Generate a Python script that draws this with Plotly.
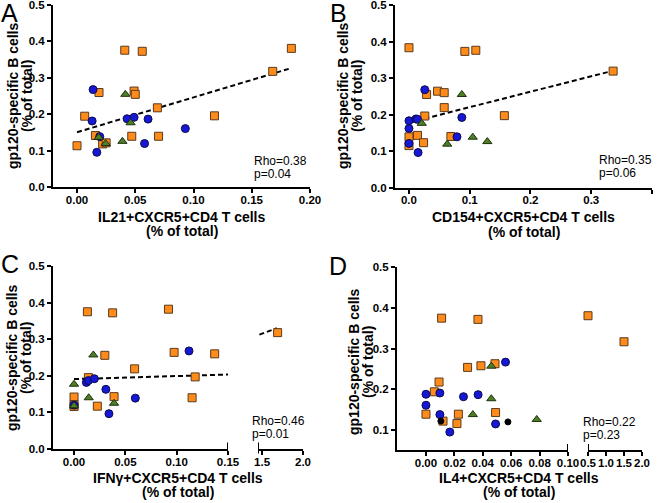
import plotly.graph_objects as go

W, H = 660, 503

# ---------------- data ----------------
# Panel A: IL21+CXCR5+CD4 T cells
a_sq_x = [0.000, 0.0066, 0.0158, 0.0189, 0.022, 0.025, 0.041, 0.056, 0.049, 0.050, 0.047, 0.069, 0.070, 0.118, 0.168, 0.184]
a_sq_y = [0.114, 0.195, 0.142, 0.260, 0.119, 0.122, 0.376, 0.373, 0.264, 0.255, 0.140, 0.218, 0.140, 0.196, 0.318, 0.381]
a_ci_x = [0.0138, 0.013, 0.0195, 0.017, 0.043, 0.049, 0.061, 0.058, 0.093]
a_ci_y = [0.268, 0.182, 0.139, 0.096, 0.188, 0.192, 0.187, 0.120, 0.161]
a_tr_x = [0.0415, 0.046, 0.0186, 0.0246, 0.039]
a_tr_y = [0.255, 0.177, 0.137, 0.120, 0.126]
a_fit_x = [0.0, 0.184]
a_fit_y = [0.151, 0.327]

# Panel B: CD154+CXCR5+CD4 T cells
b_sq_x = [0.0, 0.0, 0.0, 0.014, 0.024, 0.026, 0.029, 0.047, 0.058, 0.058, 0.069, 0.092, 0.110, 0.157, 0.336]
b_sq_y = [0.383, 0.139, 0.115, 0.143, 0.123, 0.196, 0.255, 0.264, 0.260, 0.219, 0.140, 0.373, 0.376, 0.197, 0.319]
b_ci_x = [0.0, 0.0, 0.0, 0.0115, 0.014, 0.015, 0.026, 0.087, 0.079]
b_ci_y = [0.183, 0.162, 0.121, 0.188, 0.187, 0.096, 0.268, 0.192, 0.139]
b_tr_x = [0.087, 0.021, 0.063, 0.105, 0.129]
b_tr_y = [0.255, 0.176, 0.119, 0.138, 0.126]
b_fit_x = [0.0, 0.336]
b_fit_y = [0.178, 0.320]

# Panel C: IFNγ+CXCR5+CD4 T cells (broken x axis)
c_sq_x = [0.013, 0.0376, 0.092, 1.69, 0.0975, 0.137, 0.030, 0.059, 0.014, 0.118, 0.0, 0.039, 0.115, 0.0, 0.0227, 0.0]
c_sq_y = [0.375, 0.372, 0.382, 0.318, 0.264, 0.260, 0.256, 0.219, 0.195, 0.197, 0.142, 0.143, 0.140, 0.116, 0.117, 0.121]
c_ci_x = [0.112, 0.012, 0.014, 0.0198, 0.031, 0.0597, 0.034, 0.0]
c_ci_y = [0.268, 0.182, 0.187, 0.192, 0.163, 0.139, 0.0965, 0.120]
c_tr_x = [0.0188, 0.0, 0.0143, 0.039, 0.0]
c_tr_y = [0.257, 0.177, 0.140, 0.125, 0.118]
c_bk_x = [0.0]
c_bk_y = [0.121]
c_fit_x = [0.0, 1.68]
c_fit_y = [0.191, 0.330]

# Panel D: IL4+CXCR5+CD4 T cells (broken x axis)
d_sq_x = [0.011, 0.0366, 0.0293, 0.0387, 0.0486, 0.0092, 0.0059, 0.0, 0.012, 0.0228, 0.0218, 0.049, 0.5, 1.5]
d_sq_y = [0.375, 0.372, 0.254, 0.258, 0.263, 0.218, 0.194, 0.139, 0.122, 0.139, 0.116, 0.143, 0.381, 0.317]
d_ci_x = [0.0, 0.0, 0.0098, 0.0098, 0.0264, 0.0367, 0.056, 0.049, 0.0168]
d_ci_y = [0.188, 0.161, 0.191, 0.138, 0.182, 0.187, 0.267, 0.115, 0.095]
d_tr_x = [0.046, 0.046, 0.033, 0.078]
d_tr_y = [0.257, 0.177, 0.138, 0.126]
d_bk_x = [0.0105, 0.0577]
d_bk_y = [0.122, 0.120]

# tick values
a_xticks = [0.00, 0.05, 0.10, 0.15, 0.20]
b_xticks = [0.0, 0.1, 0.2, 0.3, 0.4]
c1_xticks = [0.00, 0.05, 0.10, 0.15]
c2_xticks = [1.5, 2.0]
d1_xticks = [0.00, 0.02, 0.04, 0.06, 0.08, 0.10]
d2_xticks = [0.5, 1.0, 1.5, 2.0]
y_ticks = [0.0, 0.1, 0.2, 0.3, 0.4, 0.5]
d_yticks = [0.1, 0.2, 0.3, 0.4, 0.5]

y_title = "gp120-specific B cells"
sub_title = "(% of total)"
x_titles = ["IL21+CXCR5+CD4 T cells", "CD154+CXCR5+CD4 T cells",
            "IFNγ+CXCR5+CD4 T cells", "IL4+CXCR5+CD4 T cells"]
stats = [("Rho=0.38", "p=0.04"), ("Rho=0.35", "p=0.06"),
         ("Rho=0.46", "p=0.01"), ("Rho=0.22", "p=0.23")]
letters = ["A", "B", "C", "D"]

# ---------------- style ----------------
ORANGE, ORANGE_LINE = "#FF8C1A", "#5a3a1e"
BLUE, BLUE_LINE = "#1717D6", "#0b0b4a"
GREEN, GREEN_LINE = "#4F7F25", "#1c300e"
FONT = "Arial, Liberation Sans, sans-serif"

def fx(p):
    return p / W

def fy(p):
    return 1 - p / H

def dx(a, b):
    return [fx(a), fx(b)]

def dy(top, bottom):
    return [fy(bottom), fy(top)]

fig = go.Figure()

def add_fit(x, y, xa, ya):
    fig.add_trace(go.Scatter(x=x, y=y, mode="lines", xaxis=xa, yaxis=ya,
                             line=dict(color="black", width=2, dash="5px,3px"),
                             showlegend=False, hoverinfo="skip"))

def add_pts(x, y, xa, ya, symbol, color, lcolor, size=8, lw=1):
    fig.add_trace(go.Scatter(x=x, y=y, mode="markers", xaxis=xa, yaxis=ya,
                             cliponaxis=False,
                             marker=dict(symbol=symbol, color=color, size=size,
                                         line=dict(color=lcolor, width=lw)),
                             showlegend=False))

def split(x, y, cut):
    lo = [(a, b) for a, b in zip(x, y) if a <= cut]
    hi = [(a, b) for a, b in zip(x, y) if a > cut]
    return ([p[0] for p in lo], [p[1] for p in lo]), ([p[0] for p in hi], [p[1] for p in hi])

# Panel A
add_fit(a_fit_x, a_fit_y, "x", "y")
add_pts(a_sq_x, a_sq_y, "x", "y", "square", ORANGE, ORANGE_LINE)
add_pts(a_ci_x, a_ci_y, "x", "y", "circle", BLUE, BLUE_LINE)
add_pts(a_tr_x, a_tr_y, "x", "y", "triangle-up", GREEN, GREEN_LINE)

# Panel B
add_fit(b_fit_x, b_fit_y, "x2", "y2")
add_pts(b_sq_x, b_sq_y, "x2", "y2", "square", ORANGE, ORANGE_LINE)
add_pts(b_ci_x, b_ci_y, "x2", "y2", "circle", BLUE, BLUE_LINE)
add_pts(b_tr_x, b_tr_y, "x2", "y2", "triangle-up", GREEN, GREEN_LINE)

# Panel C (segments x3 / x4)
C_CUT = 0.15
add_fit(c_fit_x, c_fit_y, "x3", "y3")
add_fit(c_fit_x, c_fit_y, "x4", "y3")
for (xs, ys, sym, col, lc, sz) in [(c_sq_x, c_sq_y, "square", ORANGE, ORANGE_LINE, 8),
                                    (c_bk_x, c_bk_y, "circle", "black", "black", 6),
                                    (c_ci_x, c_ci_y, "circle", BLUE, BLUE_LINE, 8),
                                    (c_tr_x, c_tr_y, "triangle-up", GREEN, GREEN_LINE, 8)]:
    lo, hi = split(xs, ys, C_CUT)
    if lo[0]:
        add_pts(lo[0], lo[1], "x3", "y3", sym, col, lc, sz)
    if hi[0]:
        add_pts(hi[0], hi[1], "x4", "y3", sym, col, lc, sz)

# Panel D (segments x5 / x6)
D_CUT = 0.10
for (xs, ys, sym, col, lc, sz) in [(d_sq_x, d_sq_y, "square", ORANGE, ORANGE_LINE, 8),
                                    (d_ci_x, d_ci_y, "circle", BLUE, BLUE_LINE, 8),
                                    (d_bk_x, d_bk_y, "circle", "black", "black", 6),
                                    (d_tr_x, d_tr_y, "triangle-up", GREEN, GREEN_LINE, 8)]:
    lo, hi = split(xs, ys, D_CUT)
    if lo[0]:
        add_pts(lo[0], lo[1], "x5", "y4", sym, col, lc, sz)
    if hi[0]:
        add_pts(hi[0], hi[1], "x6", "y4", sym, col, lc, sz)

# ---------------- axes ----------------
tickfont = dict(family=FONT, size=11.5, color="black")
axis_common = dict(showline=True, linecolor="black", linewidth=2, ticks="outside",
                   ticklen=4, tickwidth=2, tickcolor="black", showgrid=False,
                   zeroline=False, tickfont=tickfont, fixedrange=True,
                   automargin=False, tickangle=0, tickmode="array")

def labels(vals, fmt):
    return ["<b>" + format(v, fmt) + "</b>" for v in vals]

def xax(domain, rng, vals, fmt, anchor):
    return dict(axis_common, domain=domain, range=rng, tickvals=vals,
                ticktext=labels(vals, fmt), anchor=anchor, ticklabelstandoff=-3)

def yax(domain, rng, vals, anchor):
    return dict(axis_common, domain=domain, range=rng, tickvals=vals,
                ticktext=labels(vals, ".1f"), anchor=anchor)

A_RANGE = [-0.0206, 0.20]
B_RANGE = [-0.023, 0.40]
C1_RANGE = [-0.0205, 0.15]
C2_RANGE = [1.45, 2.0]
D1_RANGE = [-0.0204, 0.10]
D2_RANGE = [0.5, 2.0]

fig.update_layout(
    template="none",
    xaxis=xax(dx(53, 310), A_RANGE, a_xticks, ".2f", "y"),
    yaxis=yax(dy(5, 187.3), [0, 0.5], y_ticks, "x"),
    xaxis2=xax(dx(395, 652), B_RANGE, b_xticks, ".1f", "y2"),
    yaxis2=yax(dy(5, 187.6), [0, 0.5], y_ticks, "x2"),
    xaxis3=xax(dx(53, 228), C1_RANGE, c1_xticks, ".2f", "y3"),
    xaxis4=xax(dx(258, 303), C2_RANGE, c2_xticks, ".1f", "y3"),
    yaxis3=yax(dy(266, 449), [0, 0.5], y_ticks, "x3"),
    xaxis5=xax(dx(397, 568), D1_RANGE, d1_xticks, ".2f", "y4"),
    xaxis6=xax(dx(588, 642), D2_RANGE, d2_xticks, ".1f", "y4"),
    yaxis4=yax(dy(267.3, 450.4), [0.05, 0.5], d_yticks, "x5"),
)

# break caps at segment ends
shapes = []
for xref, yref, xv in [("x3", "y3", C1_RANGE[1]), ("x4", "y3", C2_RANGE[0]),
                       ("x5", "y4", D1_RANGE[1]), ("x6", "y4", D2_RANGE[0])]:
    shapes.append(dict(type="line", xref=xref, yref=yref + " domain",
                       x0=xv, x1=xv, y0=-0.025, y1=0.035,
                       line=dict(color="black", width=2)))

# ---------------- annotations ----------------
ann = []
def txt(text, x, y, size, bold=False, angle=0, xanchor="center", yanchor="middle"):
    ann.append(dict(text=("<b>%s</b>" % text) if bold else text,
                    x=fx(x), y=fy(y), xref="paper", yref="paper",
                    showarrow=False, textangle=angle, xanchor=xanchor, yanchor=yanchor,
                    font=dict(family=FONT, size=size, color="black")))

letter_pos = [(9.5, 13), (338, 13), (9.5, 264), (338, 266)]
for L, (x, y) in zip(letters, letter_pos):
    txt(L, x, y, 25)

ytitle_pos = [(13, 27, 96), (343, 357, 96), (12, 26, 358), (354, 368, 362)]
for (x1, x2, yc) in ytitle_pos:
    txt(y_title, x1, yc, 14, bold=True, angle=-90)
    txt(sub_title, x2, yc, 14, bold=True, angle=-90)

xtitle_pos = [(181.5, 217, 231), (523.5, 217, 232), (178, 477.5, 491.5), (519, 477.5, 491.5)]
for t, (xc, y1, y2) in zip(x_titles, xtitle_pos):
    txt(t, xc, y1, 14, bold=True)
    txt(sub_title, xc, y2, 14, bold=True)

stat_pos = [(252, 161, 174), (597, 160, 173), (250, 421, 434), (581, 422, 435)]
for (r, p), (x, y1, y2) in zip(stats, stat_pos):
    txt(r, x, y1, 12, xanchor="left")
    txt(p, x, y2, 12, xanchor="left")

fig.update_layout(width=W, height=H, margin=dict(l=0, r=0, t=0, b=0, pad=0),
                  paper_bgcolor="white", plot_bgcolor="white",
                  shapes=shapes, annotations=ann, showlegend=False)

# the page's default 8px body margin would push the figure off its 660x503 frame
fig.write_html("out.html", config={"displayModeBar": False},
               post_script="document.body.style.margin='0px';")
